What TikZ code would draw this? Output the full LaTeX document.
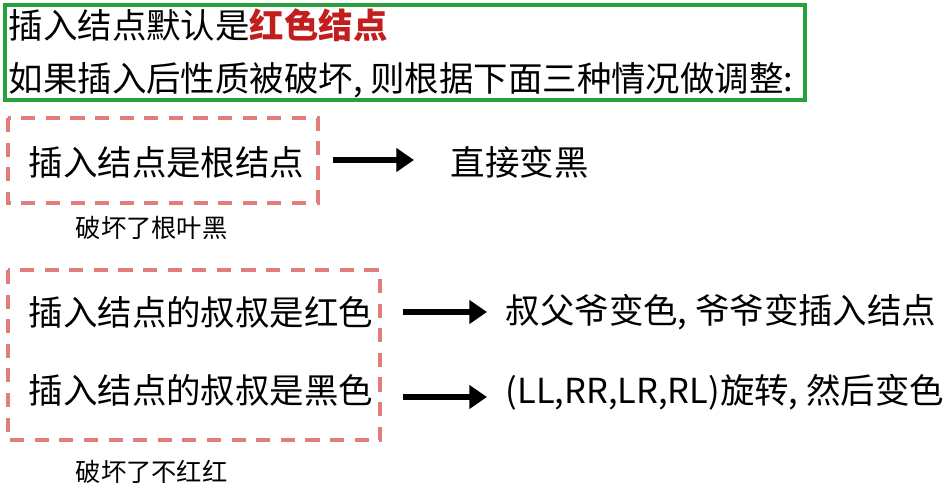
\documentclass[tikz,border=0pt]{standalone}
\usepackage{fontspec}
\setmainfont{Noto Sans CJK SC}
\usetikzlibrary{arrows.meta}
\definecolor{boxgreen}{RGB}{40,160,60}
\definecolor{redtext}{RGB}{195,30,30}
\definecolor{dashred}{RGB}{225,125,125}
\tikzset{
  main/.style={anchor=west, inner sep=0pt, font=\fontsize{9.8pt}{11pt}\selectfont},
  note/.style={anchor=west, inner sep=0pt, font=\fontsize{7.2pt}{9pt}\selectfont},
  casebox/.style={draw=dashred, line width=0.9pt, dash pattern=on 4pt off 3pt},
  goes/.style={-{Triangle[length=5pt,width=6.5pt]}, line width=1.5pt}
}
\begin{document}
\begin{tikzpicture}
  \useasboundingbox[fill=white] (0,0) rectangle (9.5,4.94);

  % header box
  \draw[boxgreen, line width=1pt] (0.05,4.89) rectangle (8.05,3.94);
  \node[main] (head) at (0.08,4.69) {插入结点默认是\textcolor{redtext}{\bfseries 红色结点}};
  \node[main] (rule) at (0.08,4.14) {如果插入后性质被破坏, 则根据下面三种情况做调整:};

  % case 1
  \draw[casebox] (0.08,3.76) rectangle (3.18,2.91);
  \node[main] (root) at (0.28,3.32) {插入结点是根结点};
  \node[main] (black) at (4.5,3.32) {直接变黑};
  \coordinate (a1) at (3.33,3.34);
  \coordinate (b1) at (4.14,3.34);
  \draw[goes] (a1) -- (b1);
  \node[note] (n1) at (0.75,2.66) {破坏了根叶黑};

  % case 2 and 3
  \draw[casebox] (0.08,2.24) rectangle (3.8,0.54);
  \node[main] (uncr) at (0.28,1.82) {插入结点的叔叔是红色};
  \node[main] (uncb) at (0.28,1.04) {插入结点的叔叔是黑色};
  \node[main] (recol) at (5.05,1.82) {叔父爷变色, 爷爷变插入结点};
  \node[main] (rot) at (5.05,1.02) {(LL,RR,LR,RL)旋转, 然后变色};
  \coordinate (a2) at (4.03,1.82);
  \coordinate (b2) at (4.87,1.82);
  \coordinate (a3) at (4.03,0.97);
  \coordinate (b3) at (4.87,0.97);
  \draw[goes] (a2) -- (b2);
  \draw[goes] (a3) -- (b3);
  \node[note] (n2) at (0.75,0.22) {破坏了不红红};
\end{tikzpicture}
\end{document}
